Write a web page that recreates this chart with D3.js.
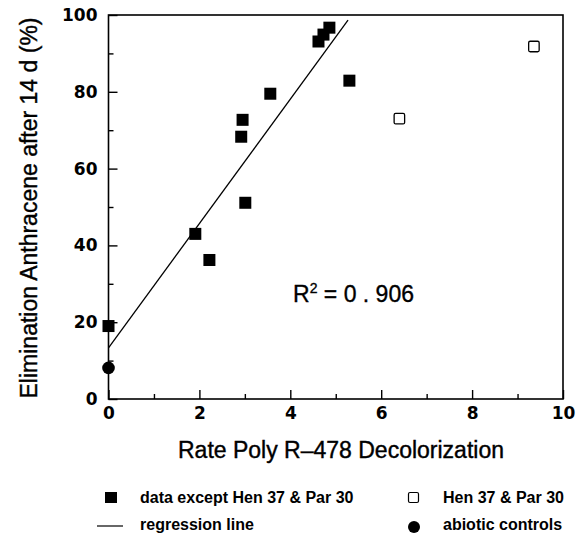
<!DOCTYPE html>
<html><head><meta charset="utf-8">
<script src="https://cdn.jsdelivr.net/npm/d3@7"></script>
<style>body{margin:0;background:#fff}svg{display:block}</style>
</head><body>
<script>
// data
const filledX = [0, 1.91, 2.22, 2.95, 2.92, 3.01, 3.56, 4.62, 4.73, 4.86, 5.30];
const filledY = [19, 43.0, 36.2, 72.7, 68.3, 51.1, 79.5, 93.1, 94.9, 96.7, 82.9];
const openX = [6.40, 9.36];
const openY = [73.0, 91.8];
const abioticX = [0];
const abioticY = [8.1];
const regIntercept = 13.3;
const regSlope = 16.2;
const regXRange = [0, 5.27];
const xTicks = [0, 2, 4, 6, 8, 10];
const xMinor = [1, 3, 5, 7, 9];
const yTicks = [0, 20, 40, 60, 80, 100];
const yMinor = [10, 30, 50, 70, 90];
const r2Label = "0 . 906";

const W = 577, H = 535;
const svg = d3.select("body").append("svg").attr("width", W).attr("height", H);
const x = d3.scaleLinear().domain([0, 10]).range([108.5, 563]);
const y = d3.scaleLinear().domain([0, 100]).range([399, 15]);
const tickFont = "'DejaVu Sans', sans-serif";
const txtFont = "'Liberation Sans', Arial, sans-serif";

// frame
svg.append("rect").attr("x", x(0)).attr("y", y(100)).attr("width", x(10) - x(0)).attr("height", y(0) - y(100))
  .attr("fill", "none").attr("stroke", "#000").attr("stroke-width", 1.6);

// axes
svg.append("g").attr("transform", `translate(0,${y(0)})`)
  .call(d3.axisBottom(x).tickValues(xTicks).tickSize(-9).tickPadding(8).tickFormat(d3.format("d")));
svg.append("g").attr("transform", `translate(0,${y(0)})`)
  .call(d3.axisBottom(x).tickValues(xMinor).tickSize(-5).tickFormat(""));
svg.append("g").attr("transform", `translate(${x(0)},0)`)
  .call(d3.axisLeft(y).tickValues(yTicks).tickSize(-9).tickPadding(11).tickFormat(d3.format("d")));
svg.append("g").attr("transform", `translate(${x(0)},0)`)
  .call(d3.axisLeft(y).tickValues(yMinor).tickSize(-5).tickFormat(""));
svg.selectAll(".domain").remove();
svg.selectAll(".tick line").attr("stroke", "#000").attr("stroke-width", 1.4);
svg.selectAll(".tick text").attr("font-family", tickFont).attr("font-weight", "bold").attr("font-size", 17).attr("fill", "#000");

// regression line
svg.append("line")
  .attr("x1", x(regXRange[0])).attr("y1", y(regIntercept + regSlope * regXRange[0]))
  .attr("x2", x(regXRange[1])).attr("y2", y(regIntercept + regSlope * regXRange[1]))
  .attr("stroke", "#000").attr("stroke-width", 1.3);

const s = 12;
// filled squares
svg.append("g").selectAll("rect").data(filledX.map((d, i) => [d, filledY[i]])).join("rect")
  .attr("x", d => x(d[0]) - s / 2).attr("y", d => y(d[1]) - s / 2).attr("width", s).attr("height", s)
  .attr("fill", "#000");
// open squares
svg.append("g").selectAll("rect").data(openX.map((d, i) => [d, openY[i]])).join("rect")
  .attr("x", d => x(d[0]) - s / 2 + 0.75).attr("y", d => y(d[1]) - s / 2 + 0.75).attr("width", s - 1.5).attr("height", s - 1.5)
  .attr("rx", 1.5).attr("fill", "#fff").attr("stroke", "#000").attr("stroke-width", 1.3);
// abiotic
svg.append("g").selectAll("circle").data(abioticX.map((d, i) => [d, abioticY[i]])).join("circle")
  .attr("cx", d => x(d[0])).attr("cy", d => y(d[1])).attr("r", 6.3).attr("fill", "#000");

// R2
const r2 = svg.append("text").attr("x", 293).attr("y", 302).attr("font-family", txtFont).attr("font-size", 23)
  .attr("fill", "#000").attr("stroke", "#000").attr("stroke-width", 0.35);
r2.append("tspan").text("R");
r2.append("tspan").attr("font-size", 14).attr("dy", -9).text("2");
r2.append("tspan").attr("dy", 9).text(" = " + r2Label);

// axis titles
svg.append("text").attr("x", 341).attr("y", 458).attr("text-anchor", "middle")
  .attr("font-family", txtFont).attr("font-size", 23).attr("fill", "#000").attr("stroke", "#000").attr("stroke-width", 0.4)
  .text("Rate Poly R\u2013478 Decolorization");
svg.append("text").attr("transform", "translate(37,208) rotate(-90)").attr("text-anchor", "middle")
  .attr("font-family", txtFont).attr("font-size", 23).attr("fill", "#000").attr("stroke", "#000").attr("stroke-width", 0.4)
  .text("Elimination Anthracene after 14 d (%)");

// legend
const lg = svg.append("g").attr("font-family", txtFont).attr("font-weight", "bold").attr("font-size", 16).attr("fill", "#000");
lg.append("rect").attr("x", 105).attr("y", 492).attr("width", 12).attr("height", 11).attr("fill", "#000");
lg.append("text").attr("x", 140).attr("y", 503).text("data except Hen 37 & Par 30");
lg.append("line").attr("x1", 97).attr("x2", 123).attr("y1", 526).attr("y2", 526).attr("stroke", "#000").attr("stroke-width", 1.2);
lg.append("text").attr("x", 140).attr("y", 530).text("regression line");
lg.append("rect").attr("x", 408.5).attr("y", 492.5).attr("width", 10).attr("height", 10).attr("rx", 1.5)
  .attr("fill", "#fff").attr("stroke", "#000").attr("stroke-width", 1.2);
lg.append("text").attr("x", 443).attr("y", 503).text("Hen 37 & Par 30");
lg.append("circle").attr("cx", 414).attr("cy", 527).attr("r", 6).attr("fill", "#000");
lg.append("text").attr("x", 443).attr("y", 530).text("abiotic controls");
</script>
</body></html>
